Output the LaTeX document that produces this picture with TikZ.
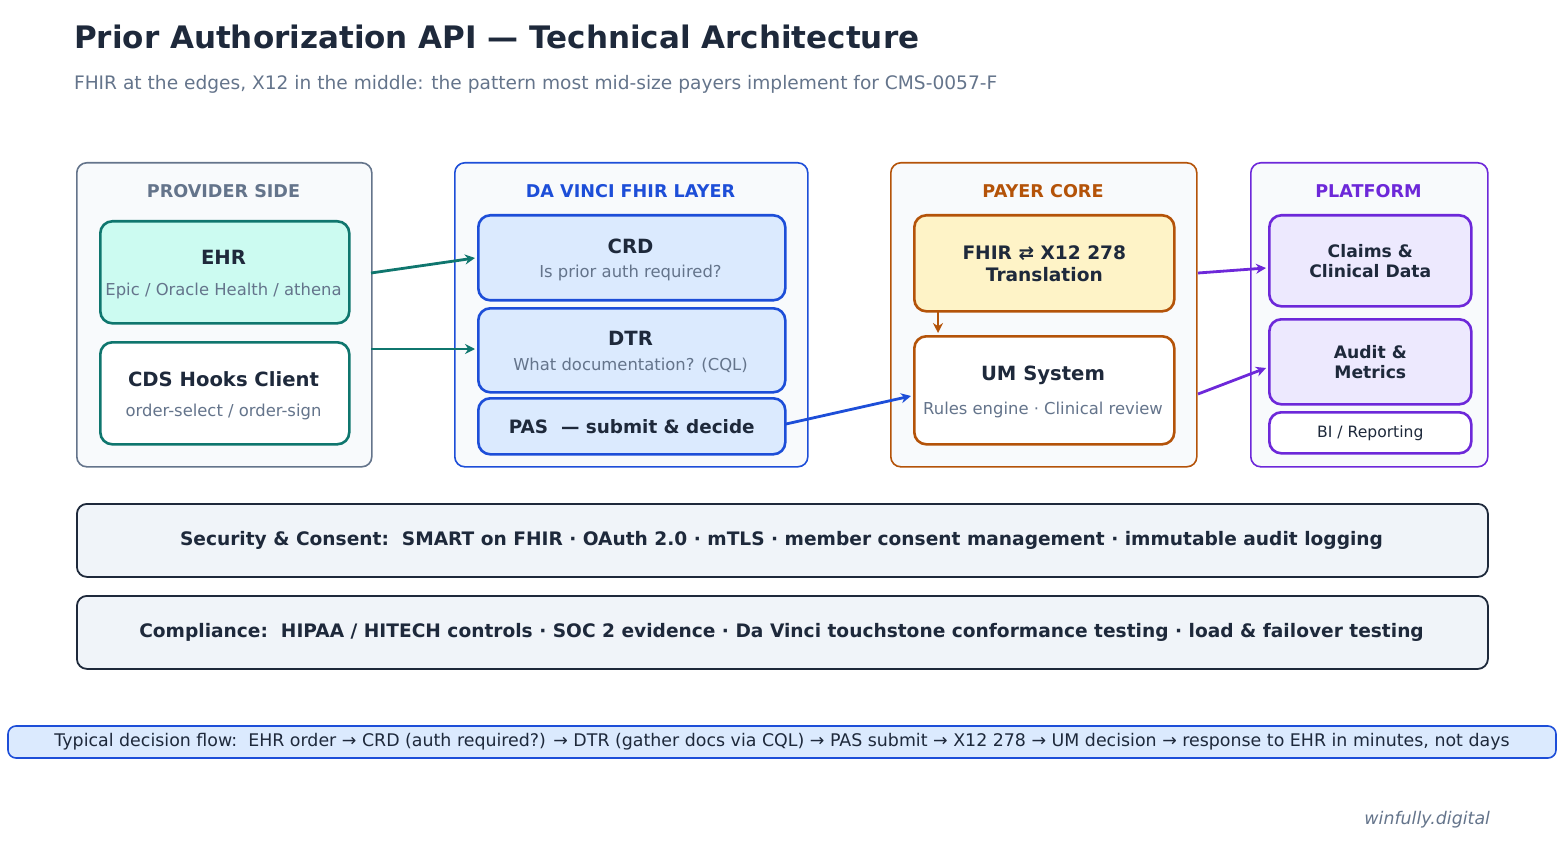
\documentclass[tikz,border=0pt]{standalone}
\usepackage{fontspec}
\setmainfont{DejaVu Sans}
\usetikzlibrary{arrows.meta,positioning}
\definecolor{ink}{HTML}{1E293B}
\definecolor{muted}{HTML}{64748B}
\definecolor{teal}{HTML}{0F766E}
\definecolor{tealbg}{HTML}{CCFBF1}
\definecolor{blu}{HTML}{1D4ED8}
\definecolor{blubg}{HTML}{DBEAFE}
\definecolor{org}{HTML}{B45309}
\definecolor{orgbg}{HTML}{FEF3C7}
\definecolor{pur}{HTML}{6D28D9}
\definecolor{purbg}{HTML}{EDE9FE}
\definecolor{grpbg}{HTML}{F8FAFC}
\definecolor{barbg}{HTML}{F0F4F9}
\tikzset{
  group/.style={draw, line width=0.8pt, rounded corners=5pt, fill=grpbg, anchor=north west, inner sep=0pt},
  box/.style={draw, line width=1.3pt, rounded corners=6pt, anchor=north west, inner sep=0pt, align=center, text=ink},
  bar/.style={draw=ink, line width=0.9pt, rounded corners=5pt, fill=barbg, anchor=north west, inner sep=0pt, text=ink, font=\bfseries\fontsize{9.3}{11}\selectfont},
  gtitle/.style={font=\bfseries\fontsize{8.8}{10}\selectfont},
  btitle/.style={text=ink, font=\bfseries\fontsize{9.8}{11}\selectfont},
  bsub/.style={text=muted, font=\fontsize{8.2}{10}\selectfont},
  link/.style={-{Stealth[length=5pt,width=5pt]}, line width=1.4pt}
}
\begin{document}
\begin{tikzpicture}[x=0.5pt,y=-0.5pt]
\useasboundingbox (0,0) rectangle (1563,861);
% heading
\node[anchor=west, text=ink, font=\bfseries\fontsize{15.5}{18}\selectfont] (title) at (67,37) {Prior Authorization API — Technical Architecture};
\node[anchor=west, text=muted, font=\fontsize{9.3}{11}\selectfont] (subtitle) at (67,84) {FHIR at the edges, X12 in the middle: the pattern most mid-size payers implement for CMS-0057-F};

% groups
\node[group, draw=muted, minimum width=147.5pt, minimum height=152pt] (provider) at (76,162) {};
\node[gtitle, text=muted] at (223.5,191) {PROVIDER SIDE};
\node[group, draw=blu, minimum width=176.5pt, minimum height=152pt] (davinci) at (454,162) {};
\node[gtitle, text=blu] at (630.5,191) {DA VINCI FHIR LAYER};
\node[group, draw=org, minimum width=153pt, minimum height=152pt] (payer) at (890,162) {};
\node[gtitle, text=org] at (1043,191) {PAYER CORE};
\node[group, draw=pur, minimum width=118.5pt, minimum height=152pt] (platform) at (1250,162) {};
\node[gtitle, text=pur] at (1368.5,191) {PLATFORM};

% provider
\node[box, draw=teal, fill=tealbg, minimum width=124.5pt, minimum height=51pt] (ehr) at (99,220) {};
\node[btitle] at (223.5,257) {EHR};
\node[bsub] at (223.5,291) {Epic / Oracle Health / athena};
\node[box, draw=teal, fill=white, minimum width=124.5pt, minimum height=51pt] (cds) at (99,341) {};
\node[btitle] at (223.5,379) {CDS Hooks Client};
\node[bsub] at (223.5,412) {order-select / order-sign};

% da vinci
\node[box, draw=blu, fill=blubg, minimum width=153.5pt, minimum height=42.5pt] (crd) at (477,214) {};
\node[btitle] at (630.5,246) {CRD};
\node[bsub] at (630.5,273) {Is prior auth required?};
\node[box, draw=blu, fill=blubg, minimum width=153.5pt, minimum height=42pt] (dtr) at (477,307) {};
\node[btitle] at (630.5,338) {DTR};
\node[bsub] at (630.5,365) {What documentation? (CQL)};
\node[box, draw=blu, fill=blubg, minimum width=153.5pt, minimum height=28pt, btitle, font=\bfseries\fontsize{9.2}{11}\selectfont] (pas) at (477,397) {PAS\ \ — submit \& decide};

% payer
\node[box, draw=org, fill=orgbg, minimum width=130pt, minimum height=48pt, font=\bfseries\fontsize{9.3}{11}\selectfont] (trans) at (913,214) {FHIR ⇄ X12 278\\Translation};
\node[box, draw=org, fill=white, minimum width=130pt, minimum height=54pt] (um) at (913,335) {};
\node[btitle] at (1043,375) {UM System};
\node[bsub] at (1043,410) {Rules engine · Clinical review};

% platform
\node[box, draw=pur, fill=purbg, minimum width=101pt, minimum height=45.5pt, font=\bfseries\fontsize{8.6}{10}\selectfont] (claims) at (1268,214) {Claims \&\\Clinical Data};
\node[box, draw=pur, fill=purbg, minimum width=101pt, minimum height=42.5pt, font=\bfseries\fontsize{8.6}{10}\selectfont] (audit) at (1268,318) {Audit \&\\Metrics};
\node[box, draw=pur, fill=white, minimum width=101pt, minimum height=20.5pt, font=\fontsize{7.8}{9}\selectfont] (bi) at (1268,411) {BI / Reporting};

% connectors
\coordinate (ehrout) at (371,273);
\coordinate (crdin) at (475,258);
\draw[link, teal] (ehrout) -- (crdin);
\coordinate (cdsout) at (371,349);
\coordinate (dtrin) at (475,349);
\draw[link, teal] (cdsout) -- (dtrin);
\coordinate (pasout) at (786,424);
\coordinate (umin) at (911,396);
\draw[link, blu] (pasout) -- (umin);
\coordinate (transdown) at (938,310);
\coordinate (umtop) at (938,333);
\draw[link, org] (transdown) -- (umtop);
\coordinate (transout) at (1198,273);
\coordinate (claimsin) at (1266,268);
\draw[link, pur] (transout) -- (claimsin);
\coordinate (umout) at (1198,394);
\coordinate (auditin) at (1266,368);
\draw[link, pur] (umout) -- (auditin);

% bars
\node[bar, minimum width=705.5pt, minimum height=36.5pt] (security) at (76,503) {};
\node[text=ink, font=\bfseries\fontsize{9.3}{11}\selectfont] at (781.5,540) {Security \& Consent:\ \ SMART on FHIR · OAuth 2.0 · mTLS · member consent management · immutable audit logging};
\node[bar, minimum width=705.5pt, minimum height=36.5pt] (compliance) at (76,595) {};
\node[text=ink, font=\bfseries\fontsize{9.3}{11}\selectfont] at (781.5,632) {Compliance:\ \ HIPAA / HITECH controls · SOC 2 evidence · Da Vinci touchstone conformance testing · load \& failover testing};

% flow
\node[draw=blu, line width=0.8pt, fill=blubg, rounded corners=4pt, minimum width=774pt, minimum height=16pt, inner sep=0pt, text=ink, font=\fontsize{8.7}{10}\selectfont] (flow) at (782,742) {Typical decision flow:\ \ EHR order → CRD (auth required?) → DTR (gather docs via CQL) → PAS submit → X12 278 → UM decision → response to EHR in minutes, not days};

\node[anchor=east, text=muted, font=\itshape\fontsize{8.7}{10}\selectfont] (mark) at (1497,820) {winfully.digital};
\end{tikzpicture}
\end{document}
